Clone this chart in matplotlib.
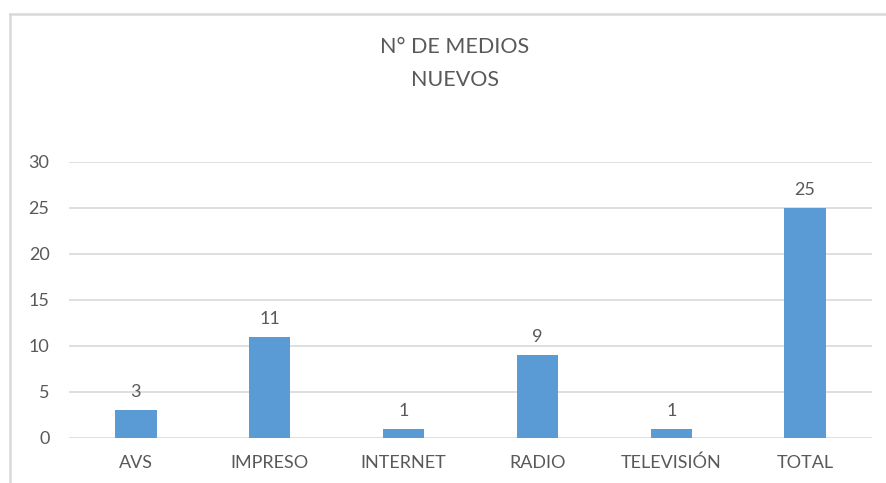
import matplotlib
matplotlib.use("Agg")
import matplotlib.pyplot as plt
from matplotlib.lines import Line2D

categories = ["AVS", "IMPRESO", "INTERNET", "RADIO", "TELEVISIÓN", "TOTAL"]
values = [3, 11, 1, 9, 1, 25]
yticks = [0, 5, 10, 15, 20, 25, 30]

plt.rcParams['font.family'] = ['Lato', 'DejaVu Sans']
txt = '#595959'

fig = plt.figure(figsize=(8.86, 4.83), dpi=100)
ax = fig.add_axes([69/886, 0.0932, 803/886, 0.5714])

x = range(len(categories))
bars = ax.bar(x, values, width=0.31, color='#5B9BD5', zorder=3)
for xi, v in zip(x, values):
    ax.text(xi, v + 1.1, str(v), ha='center', va='bottom', fontsize=13, color=txt)

ax.set_xlim(-0.5, len(categories) - 0.5)
ax.set_ylim(0, 30)
ax.set_yticks(yticks)
ax.set_xticks(list(x))
ax.set_xticklabels(categories)
ax.tick_params(axis='both', length=0, labelsize=13, colors=txt)
ax.tick_params(axis='y', pad=14)
ax.tick_params(axis='x', pad=12)
ax.grid(axis='y', color='#d9d9d9', linewidth=1.2, zorder=0)
for s in ax.spines.values():
    s.set_visible(False)

fig.text(455/886, 1 - 47/483, "N° DE MEDIOS", ha='center', va='center', fontsize=15.5, color=txt)
fig.text(455/886, 1 - 80/483, "NUEVOS", ha='center', va='center', fontsize=15.5, color=txt)

# chart frame (partially visible)
fig.add_artist(Line2D([10/886, 1.0], [1 - 14/483, 1 - 14/483], transform=fig.transFigure, color='#d9d9d9', linewidth=1.8))
fig.add_artist(Line2D([10/886, 10/886], [0.0, 1 - 14/483], transform=fig.transFigure, color='#d9d9d9', linewidth=1.8))

fig.savefig("out.png", dpi=100, facecolor='white')
